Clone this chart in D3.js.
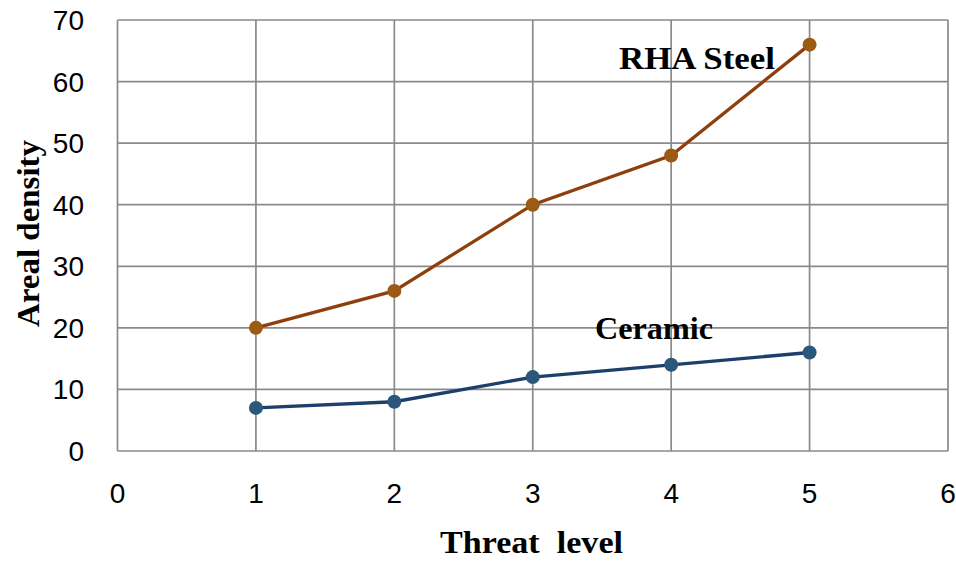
<!DOCTYPE html>
<html>
<head>
<meta charset="utf-8">
<script src="https://d3js.org/d3.v7.min.js"></script>
<style>
  body { margin: 0; background: #fff; }
</style>
</head>
<body>
<div id="chart"></div>
<script>
// data
var threat = [1, 2, 3, 4, 5];
var rhaSteel = [20, 26, 40, 48, 66];
var ceramic = [7, 8, 12, 14, 16];
var xTicks = [0, 1, 2, 3, 4, 5, 6];
var yTicks = [0, 10, 20, 30, 40, 50, 60, 70];

var width = 956, height = 561;
var margin = {top: 20, right: 8, bottom: 110, left: 117.5};

var svg = d3.select("#chart").append("svg")
    .attr("width", width)
    .attr("height", height);

var x = d3.scaleLinear().domain([0, 6]).range([margin.left, width - margin.right]);
var y = d3.scaleLinear().domain([0, 70]).range([height - margin.bottom, margin.top]);

var gridColor = "#8a8a8a";

// grid
svg.append("g").selectAll("line.h")
    .data(yTicks).enter().append("line")
    .attr("x1", x(0)).attr("x2", x(6))
    .attr("y1", function(d) { return y(d); })
    .attr("y2", function(d) { return y(d); })
    .attr("stroke", gridColor).attr("stroke-width", 1.7);

svg.append("g").selectAll("line.v")
    .data(xTicks).enter().append("line")
    .attr("y1", y(0)).attr("y2", y(70))
    .attr("x1", function(d) { return x(d); })
    .attr("x2", function(d) { return x(d); })
    .attr("stroke", gridColor).attr("stroke-width", 1.7);

// tick labels
svg.append("g").selectAll("text")
    .data(yTicks).enter().append("text")
    .attr("x", 84)
    .attr("y", function(d) { return y(d) + 10; })
    .attr("text-anchor", "end")
    .style("font-family", "'Liberation Sans', Arial, sans-serif")
    .style("font-size", "28px")
    .style("fill", "#000")
    .text(function(d) { return d; });

svg.append("g").selectAll("text")
    .data(xTicks).enter().append("text")
    .attr("x", function(d) { return x(d); })
    .attr("y", 503)
    .attr("text-anchor", "middle")
    .style("font-family", "'Liberation Sans', Arial, sans-serif")
    .style("font-size", "28px")
    .style("fill", "#000")
    .text(function(d) { return d; });

// axis titles
svg.append("text")
    .attr("x", 440).attr("y", 553)
    .attr("textLength", 183)
    .attr("lengthAdjust", "spacingAndGlyphs")
    .style("font-family", "'Liberation Serif', 'Times New Roman', serif")
    .style("font-weight", "bold")
    .style("font-size", "31px")
    .style("fill", "#000")
    .style("white-space", "pre")
    .text("Threat  level");

svg.append("text")
    .attr("transform", "translate(39,327) rotate(-90)")
    .attr("textLength", 187)
    .attr("lengthAdjust", "spacingAndGlyphs")
    .style("font-family", "'Liberation Serif', 'Times New Roman', serif")
    .style("font-weight", "bold")
    .style("font-size", "31px")
    .style("fill", "#000")
    .text("Areal density");

// series
var series = [
  {name: "RHA Steel", values: rhaSteel, line: "#8e3f0c", dot: "#9c5a12"},
  {name: "Ceramic", values: ceramic, line: "#1d3f6b", dot: "#2b587a"}
];

var line = d3.line()
    .x(function(d, i) { return x(threat[i]); })
    .y(function(d) { return y(d); });

series.forEach(function(s) {
  svg.append("path")
      .datum(s.values)
      .attr("d", line)
      .attr("fill", "none")
      .attr("stroke", s.line)
      .attr("stroke-width", 3.3);
  svg.append("g").selectAll("circle")
      .data(s.values).enter().append("circle")
      .attr("cx", function(d, i) { return x(threat[i]); })
      .attr("cy", function(d) { return y(d); })
      .attr("r", 7)
      .attr("fill", s.dot);
});

// series labels
svg.append("text")
    .attr("x", 619).attr("y", 69)
    .attr("textLength", 156)
    .attr("lengthAdjust", "spacingAndGlyphs")
    .style("font-family", "'Liberation Serif', 'Times New Roman', serif")
    .style("font-weight", "bold")
    .style("font-size", "32px")
    .style("fill", "#000")
    .text("RHA Steel");

svg.append("text")
    .attr("x", 595).attr("y", 339)
    .attr("textLength", 118)
    .attr("lengthAdjust", "spacingAndGlyphs")
    .style("font-family", "'Liberation Serif', 'Times New Roman', serif")
    .style("font-weight", "bold")
    .style("font-size", "32px")
    .style("fill", "#000")
    .text("Ceramic");
</script>
</body>
</html>
